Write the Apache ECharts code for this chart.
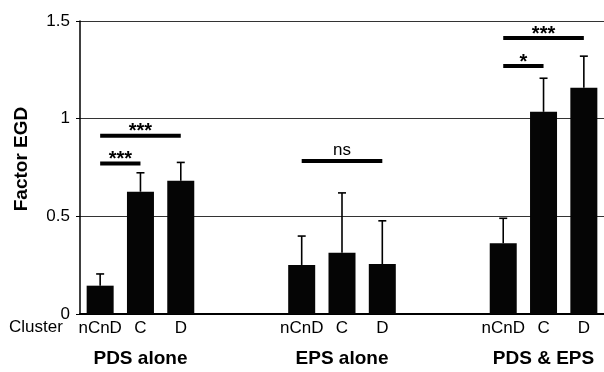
<!DOCTYPE html>
<html>
<head>
<meta charset="utf-8">
<script src="https://cdn.jsdelivr.net/npm/echarts@6/dist/echarts.min.js"></script>
<style>html,body{margin:0;padding:0;background:#fff;}#c{width:604px;height:372px;}</style>
</head>
<body>
<div id="c"></div>
<script>
const categories = ['nCnD','C','D','','','nCnD','C','D','','','nCnD','C','D'];
const groupLabels = ['', 'PDS alone', '', '', '', '', 'EPS alone', '', '', '', '', 'PDS & EPS', ''];
const means = [0.145, 0.626, 0.682, null, null, 0.251, 0.314, 0.256, null, null, 0.362, 1.035, 1.158];
const upper = [0.205, 0.723, 0.776, null, null, 0.399, 0.620, 0.477, null, null, 0.490, 1.207, 1.320];
const sigFrom = [0, 0, 5, 10, 10];
const sigTo = [1, 2, 7, 11, 12];
const sigLevel = [0.771, 0.912, 0.783, 1.269, 1.413];
const sigText = ['***', '***', 'ns', '*', '***'];
const yTicks = [0, 0.5, 1, 1.5];

const FONT = 'Liberation Sans, Arial, sans-serif';
const chart = echarts.init(document.getElementById('c'), null, {renderer: 'canvas'});

const errData = means.map((m, i) => m == null ? null : [i, m, upper[i]]).filter(d => d);
const sigData = sigFrom.map((f, i) => [f, sigTo[i], sigLevel[i], i]);

chart.setOption({
  animation: false,
  backgroundColor: '#fff',
  grid: {left: 80, right: -4, top: 21, bottom: 58, containLabel: false},
  xAxis: [{
    type: 'category', data: categories, position: 'bottom',
    axisLine: {lineStyle: {color: '#000', width: 2}},
    axisTick: {show: false},
    axisLabel: {color: '#000', fontSize: 17, fontFamily: FONT, margin: 6, interval: 0}
  }, {
    type: 'category', data: groupLabels, position: 'bottom',
    axisLine: {show: false}, axisTick: {show: false},
    axisLabel: {color: '#000', fontSize: 19, fontWeight: 'bold', fontFamily: FONT, margin: 35, interval: 0}
  }],
  yAxis: {
    type: 'value', min: 0, max: 1.5, interval: 0.5,
    axisLine: {show: true, lineStyle: {color: '#000', width: 1.5}},
    axisTick: {show: true, length: 4, lineStyle: {color: '#000', width: 1}},
    axisLabel: {color: '#000', fontSize: 17, fontFamily: FONT, margin: 10,
      formatter: v => yTicks.includes(v) ? String(v) : ''},
    splitLine: {show: true, lineStyle: {color: '#333', width: 1}}
  },
  graphic: [
    {type: 'text', x: 22, y: 159, rotation: Math.PI / 2,
      style: {text: 'Factor EGD', fontSize: 19, fontWeight: 'bold', fontFamily: FONT, fill: '#000', align: 'center', verticalAlign: 'middle'}},
    {type: 'text', x: 9, y: 319,
      style: {text: 'Cluster', fontSize: 17, fontFamily: FONT, fill: '#000', align: 'left', verticalAlign: 'top'}}
  ],
  series: [{
    type: 'bar', data: means, barWidth: 27,
    itemStyle: {color: '#050505'}, silent: true
  }, {
    type: 'custom', data: errData, silent: true, z: 5,
    renderItem: function (params, api) {
      const p0 = api.coord([api.value(0), api.value(1)]);
      const p1 = api.coord([api.value(0), api.value(2)]);
      const st = {stroke: '#000', lineWidth: 1.6};
      return {type: 'group', children: [
        {type: 'line', shape: {x1: p0[0], y1: p0[1], x2: p1[0], y2: p1[1]}, style: st},
        {type: 'line', shape: {x1: p1[0] - 4, y1: p1[1], x2: p1[0] + 4, y2: p1[1]}, style: st}
      ]};
    }
  }, {
    type: 'custom', data: sigData, silent: true, z: 6,
    renderItem: function (params, api) {
      const a = api.coord([api.value(0), api.value(2)]);
      const b = api.coord([api.value(1), api.value(2)]);
      const label = sigText[api.value(3)];
      const isStar = label.indexOf('*') >= 0;
      return {type: 'group', children: [
        {type: 'rect', shape: {x: a[0], y: a[1] - 2, width: b[0] - a[0], height: 4}, style: {fill: '#000'}},
        {type: 'text', style: {text: label, x: (a[0] + b[0]) / 2, y: a[1] - (isStar ? 4 : 11),
          align: 'center', verticalAlign: 'middle', fontSize: isStar ? 20 : 17, fontWeight: isStar ? 'bold' : 'normal', fontFamily: FONT, fill: '#000'}}
      ]};
    }
  }]
});
</script>
</body>
</html>
